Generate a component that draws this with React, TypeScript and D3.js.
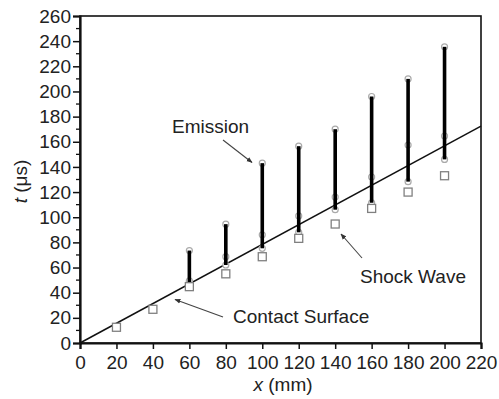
import React, { useEffect, useRef } from "react";
import * as d3 from "d3";

const emissionX = [60, 80, 100, 120, 140, 160, 180, 200];
const emissionLow = [48.5, 62, 75.3, 88, 106, 111.5, 128.3, 146];
const emissionHigh = [73.5, 94.5, 143, 156.5, 170, 196, 210, 235.5];
const emissionMid = [49.5, 68.6, 86, 101, 116, 132, 157.4, 164.6];

const shockX = [20, 40, 60, 80, 100, 120, 140, 160, 180, 200];
const shockT = [12.5, 26.8, 44.8, 55, 68.6, 83.2, 94.6, 107, 120, 133];

const lineX = [0, 220];
const lineT = [0, 172.5];

const xTicks = [0, 20, 40, 60, 80, 100, 120, 140, 160, 180, 200, 220];
const yTicks = [0, 20, 40, 60, 80, 100, 120, 140, 160, 180, 200, 220, 240, 260];

const W = 499;
const H = 399;
const FONT = "'Liberation Sans', Arial, sans-serif";

export default function App() {
  const ref = useRef<SVGSVGElement>(null);

  useEffect(() => {
    const svg = d3.select(ref.current);
    svg.selectAll("*").remove();

    const left = 80, right = 481, top = 16, bottom = 343;
    const x = d3.scaleLinear().domain([0, 220]).range([left, right]);
    const y = d3.scaleLinear().domain([0, 260]).range([bottom, top]);

    const defs = svg.append("defs");
    defs.append("marker")
      .attr("id", "arr")
      .attr("viewBox", "0 0 10 10")
      .attr("refX", 9).attr("refY", 5)
      .attr("markerWidth", 6).attr("markerHeight", 6)
      .attr("markerUnits", "userSpaceOnUse")
      .attr("orient", "auto")
      .append("path").attr("d", "M0,1 L10,5 L0,9 Z").attr("fill", "#333");

    // frame
    svg.append("rect")
      .attr("x", left).attr("y", top)
      .attr("width", right - left).attr("height", bottom - top)
      .attr("fill", "none").attr("stroke", "#111").attr("stroke-width", 1.6);

    // x axis
    const xa = svg.append("g").attr("transform", `translate(0,${bottom})`)
      .call(d3.axisBottom(x).tickValues(xTicks).tickSize(6).tickPadding(7).tickFormat(d3.format("d")));
    xa.select(".domain").attr("stroke", "#111").attr("stroke-width", 2.2);
    xa.selectAll(".tick line").attr("stroke", "#111").attr("stroke-width", 1.5);
    xa.selectAll("text").attr("font-family", FONT).attr("font-size", 19).attr("fill", "#222");

    // y minor ticks
    const yMinor = d3.range(10, 260, 20);
    svg.append("g").selectAll("line").data(yMinor).join("line")
      .attr("x1", left - 4).attr("x2", left)
      .attr("y1", (d) => y(d)).attr("y2", (d) => y(d))
      .attr("stroke", "#111").attr("stroke-width", 1.3);

    // y axis
    const ya = svg.append("g").attr("transform", `translate(${left},0)`)
      .call(d3.axisLeft(y).tickValues(yTicks).tickSize(7).tickPadding(2).tickFormat(d3.format("d")));
    ya.select(".domain").attr("stroke", "#111").attr("stroke-width", 2.2);
    ya.selectAll(".tick line").attr("stroke", "#111").attr("stroke-width", 1.5);
    ya.selectAll("text").attr("font-family", FONT).attr("font-size", 19).attr("fill", "#222");

    // fitted line
    svg.append("line")
      .attr("x1", x(lineX[0])).attr("y1", y(lineT[0]))
      .attr("x2", x(lineX[1])).attr("y2", y(lineT[1]))
      .attr("stroke", "#111").attr("stroke-width", 1.5);

    // emission circles
    const circles: { x: number; t: number }[] = [];
    emissionX.forEach((xv, i) => {
      circles.push({ x: xv, t: emissionLow[i] });
      circles.push({ x: xv, t: emissionHigh[i] });
      circles.push({ x: xv, t: emissionMid[i] });
    });
    svg.append("g").selectAll("circle").data(circles).join("circle")
      .attr("cx", (d) => x(d.x)).attr("cy", (d) => y(d.t)).attr("r", 3)
      .attr("fill", "white").attr("stroke", "#aaa").attr("stroke-width", 1.2);

    // emission bars
    svg.append("g").selectAll("line").data(emissionX).join("line")
      .attr("x1", (d) => x(d)).attr("x2", (d) => x(d))
      .attr("y1", (_d, i) => y(emissionLow[i])).attr("y2", (_d, i) => y(emissionHigh[i]))
      .attr("stroke", "#000").attr("stroke-width", 3.6);

    // shock squares
    svg.append("g").selectAll("rect").data(shockX).join("rect")
      .attr("x", (d) => x(d) - 4).attr("y", (_d, i) => y(shockT[i]) - 4)
      .attr("width", 8).attr("height", 8)
      .attr("fill", "white").attr("stroke", "#808080").attr("stroke-width", 1.3);

    // annotations
    const ann = svg.append("g").attr("font-family", FONT).attr("font-size", 19).attr("fill", "#222");
    ann.append("text").attr("x", 172).attr("y", 133).text("Emission");
    ann.append("text").attr("x", 360).attr("y", 283).text("Shock Wave");
    ann.append("text").attr("x", 233).attr("y", 323).text("Contact Surface");

    const arrows = [
      [223, 140, 252, 162.5],
      [362, 258, 341, 234],
      [223, 317, 175, 299.5],
    ];
    svg.append("g").selectAll("line").data(arrows).join("line")
      .attr("x1", (d) => d[0]).attr("y1", (d) => d[1])
      .attr("x2", (d) => d[2]).attr("y2", (d) => d[3])
      .attr("stroke", "#444").attr("stroke-width", 1.1)
      .attr("marker-end", "url(#arr)");

    // axis titles
    const xt = svg.append("text").attr("x", 283).attr("y", 391)
      .attr("text-anchor", "middle").attr("font-family", FONT).attr("font-size", 19).attr("fill", "#222");
    xt.append("tspan").attr("font-style", "italic").text("x");
    xt.append("tspan").text(" (mm)");

    const yt = svg.append("text")
      .attr("transform", `translate(27,${(top + bottom) / 2 + 2}) rotate(-90)`)
      .attr("text-anchor", "middle").attr("font-family", FONT).attr("font-size", 19).attr("fill", "#222");
    yt.append("tspan").attr("font-style", "italic").text("t");
    yt.append("tspan").text(" (μs)");
  }, []);

  return (
    <svg
      ref={ref}
      width={W}
      height={H}
      style={{ position: "absolute", left: 0, top: 0, background: "white" }}
    />
  );
}
